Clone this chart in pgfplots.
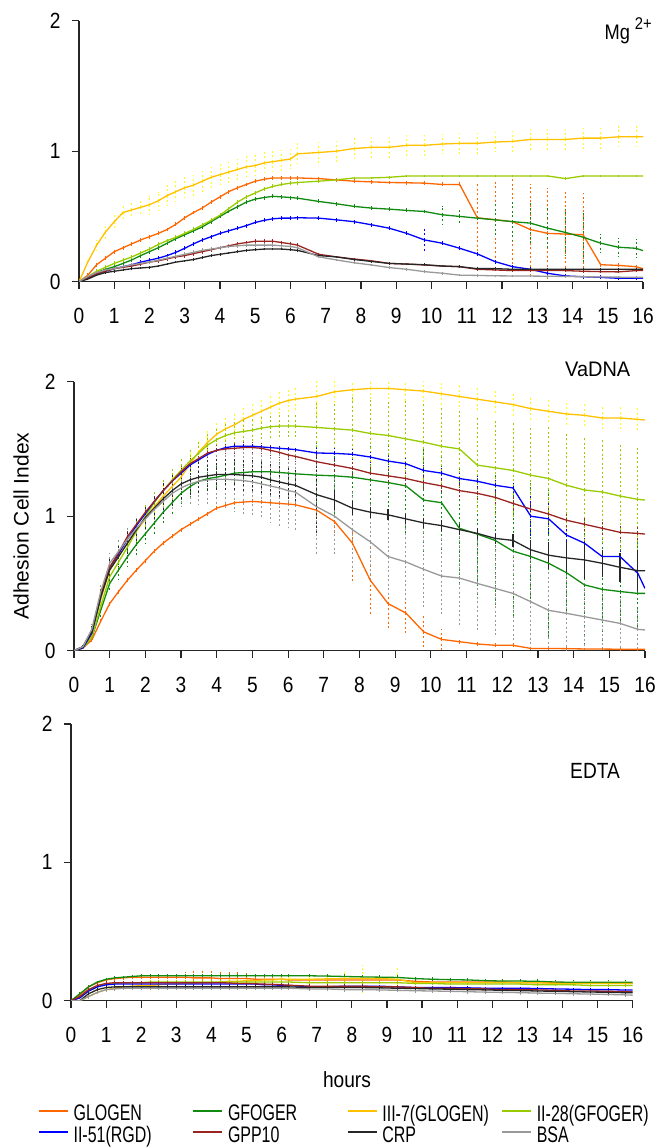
\documentclass[border=0pt]{standalone}
\usepackage{fontspec}
\setmainfont{Liberation Sans}[FakeStretch=0.87]
\newfontfamily\legfont{Liberation Sans}[FakeStretch=0.71]
\newfontfamily\labfont{Liberation Sans}
\newfontfamily\vafont{Liberation Sans}[FakeStretch=0.95]
\usepackage{pgfplots}
\usepackage{pgfplotstable}
\pgfplotsset{compat=1.18}

\definecolor{cGLO}{HTML}{FF6600}
\definecolor{cGFO}{HTML}{108A10}
\definecolor{cIII}{HTML}{FFC000}
\definecolor{eIII}{HTML}{FFFF00}
\definecolor{cII28}{HTML}{99CC00}
\definecolor{cRGD}{HTML}{0000FF}
\definecolor{cGPP}{HTML}{9A2420}
\definecolor{cCRP}{HTML}{262626}
\definecolor{cBSA}{HTML}{999999}

% Mg2+ panel: mean and error for each series
\pgfplotstableread{
t OG eOG GF eGF Y7 eY7 YG eYG BL eBL RD eRD BK eBK GR eGR
0 0 0 0 0 0 0 0 0 0 0 0 0 0 0 0 0
0.25 0.05 0.015 0.03 0.02 0.15 0.03 0.04 0.03 0.03 0.015 0.03 0.02 0.02 0.01 0.04 0.03
0.5 0.13 0.015 0.07 0.02 0.28 0.04 0.08 0.03 0.06 0.015 0.06 0.02 0.05 0.01 0.07 0.03
0.75 0.18 0.015 0.095 0.02 0.38 0.05 0.11 0.03 0.08 0.015 0.08 0.02 0.07 0.01 0.09 0.03
1 0.23 0.015 0.115 0.02 0.46 0.05 0.14 0.03 0.10 0.015 0.10 0.02 0.08 0.01 0.10 0.03
1.25 0.26 0.015 0.14 0.02 0.53 0.05 0.165 0.03 0.115 0.015 0.11 0.02 0.09 0.01 0.115 0.03
1.5 0.29 0.015 0.167 0.02 0.55 0.06 0.19 0.03 0.13 0.015 0.12 0.02 0.10 0.01 0.13 0.03
1.75 0.32 0.015 0.20 0.02 0.57 0.06 0.22 0.03 0.15 0.015 0.135 0.02 0.105 0.01 0.14 0.03
2 0.345 0.015 0.23 0.02 0.59 0.07 0.25 0.03 0.165 0.015 0.15 0.02 0.11 0.01 0.15 0.03
2.25 0.37 0.015 0.26 0.02 0.62 0.07 0.285 0.03 0.18 0.015 0.16 0.02 0.12 0.01 0.165 0.03
2.5 0.40 0.015 0.295 0.02 0.66 0.08 0.315 0.03 0.20 0.015 0.175 0.02 0.135 0.01 0.18 0.03
2.75 0.44 0.015 0.33 0.02 0.69 0.08 0.34 0.03 0.225 0.015 0.19 0.02 0.15 0.01 0.195 0.03
3 0.49 0.015 0.36 0.02 0.72 0.08 0.37 0.03 0.256 0.015 0.20 0.02 0.16 0.01 0.21 0.03
3.25 0.53 0.015 0.39 0.02 0.74 0.08 0.40 0.03 0.29 0.015 0.215 0.02 0.17 0.01 0.225 0.03
3.5 0.565 0.015 0.42 0.02 0.77 0.08 0.435 0.03 0.32 0.015 0.23 0.02 0.185 0.01 0.24 0.03
3.75 0.61 0.015 0.46 0.02 0.80 0.08 0.47 0.03 0.345 0.015 0.245 0.02 0.20 0.01 0.25 0.03
4 0.65 0.015 0.50 0.02 0.82 0.08 0.51 0.03 0.37 0.015 0.26 0.02 0.21 0.01 0.26 0.03
4.25 0.69 0.015 0.54 0.02 0.84 0.08 0.56 0.03 0.39 0.015 0.275 0.02 0.22 0.01 0.27 0.03
4.5 0.72 0.015 0.575 0.02 0.86 0.08 0.61 0.03 0.41 0.015 0.29 0.02 0.23 0.01 0.275 0.03
4.75 0.745 0.015 0.61 0.02 0.88 0.08 0.65 0.03 0.43 0.015 0.30 0.02 0.24 0.01 0.28 0.03
5 0.77 0.015 0.633 0.02 0.89 0.08 0.68 0.03 0.454 0.015 0.31 0.02 0.245 0.01 0.28 0.03
5.25 0.785 0.015 0.645 0.02 0.91 0.08 0.71 0.03 0.47 0.015 0.31 0.02 0.25 0.01 0.28 0.03
5.5 0.795 0.015 0.654 0.02 0.92 0.08 0.73 0.03 0.482 0.015 0.31 0.02 0.25 0.01 0.28 0.03
5.75 0.795 0.015 0.65 0.02 0.93 0.08 0.745 0.03 0.487 0.015 0.30 0.02 0.25 0.01 0.275 0.03
6 0.795 0.015 0.645 0.02 0.94 0.08 0.755 0.03 0.487 0.015 0.29 0.02 0.245 0.01 0.27 0.03
6.2 0.795 0.015 0.64 0.02 0.98 0.08 0.76 0.03 0.49 0.015 0.28 0.02 0.24 0.01 0.26 0.03
6.8 0.79 0.015 0.615 0.015 0.99 0.08 0.77 0.01 0.487 0.015 0.21 0.01 0.20 0.01 0.19 0.01
7.3 0.78 0.015 0.597 0.015 1.00 0.08 0.78 0.01 0.474 0.015 0.19 0.01 0.19 0.01 0.167 0.01
7.8 0.77 0.015 0.577 0.015 1.02 0.08 0.795 0.01 0.46 0.015 0.174 0.01 0.17 0.01 0.145 0.01
8.3 0.765 0.015 0.564 0.015 1.03 0.08 0.795 0.01 0.436 0.015 0.16 0.01 0.155 0.01 0.128 0.01
8.8 0.76 0.015 0.556 0.015 1.03 0.08 0.80 0.01 0.41 0.015 0.14 0.01 0.14 0.01 0.108 0.01
9.3 0.758 0.015 0.546 0.015 1.045 0.08 0.81 0.01 0.37 0.015 0.135 0.01 0.135 0.01 0.095 0.01
9.8 0.755 0.015 0.538 0.015 1.045 0.08 0.81 0.01 0.32 0.09 0.128 0.01 0.13 0.01 0.077 0.01
10.3 0.745 0.02 0.513 0.07 1.055 0.08 0.81 0.01 0.295 0.015 0.12 0.01 0.12 0.01 0.065 0.01
10.8 0.745 0.02 0.50 0.05 1.06 0.08 0.81 0.01 0.256 0.015 0.115 0.01 0.115 0.01 0.05 0.01
11.3 0.49 0.27 0.487 0.03 1.06 0.08 0.81 0.01 0.213 0.015 0.095 0.01 0.10 0.01 0.048 0.01
11.8 0.475 0.30 0.474 0.12 1.07 0.08 0.81 0.01 0.154 0.015 0.09 0.01 0.10 0.01 0.045 0.01
12.3 0.46 0.33 0.46 0.15 1.075 0.08 0.81 0.01 0.115 0.015 0.085 0.01 0.095 0.01 0.044 0.01
12.8 0.40 0.35 0.449 0.16 1.09 0.08 0.81 0.01 0.095 0.015 0.085 0.01 0.095 0.01 0.043 0.01
13.3 0.37 0.35 0.41 0.17 1.09 0.08 0.81 0.01 0.064 0.015 0.085 0.01 0.095 0.01 0.042 0.01
13.8 0.365 0.33 0.377 0.18 1.09 0.08 0.79 0.01 0.044 0.015 0.085 0.01 0.095 0.01 0.04 0.01
14.3 0.36 0.32 0.341 0.20 1.10 0.08 0.81 0.01 0.038 0.015 0.08 0.01 0.095 0.01 0.038 0.01
14.8 0.13 0.02 0.295 0.07 1.10 0.08 0.81 0.01 0.033 0.015 0.077 0.01 0.095 0.01 0.036 0.01
15.3 0.125 0.02 0.264 0.07 1.11 0.08 0.81 0.01 0.026 0.015 0.075 0.01 0.095 0.01 0.035 0.01
15.8 0.115 0.02 0.256 0.07 1.11 0.08 0.81 0.01 0.026 0.015 0.085 0.01 0.095 0.01 0.033 0.01
16 0.10 0 0.238 0 1.11 0 0.81 0 0.026 0 0.085 0 0.095 0 0.033 0
}\mgtab

% VaDNA panel
\pgfplotstableread{
t OG eOG GF eGF Y7 eY7 YG eYG BL eBL RD eRD BK eBK GR eGR
0 0 0 0 0 0 0 0 0 0 0 0 0 0 0 0 0
0.25 0.02 0.01 0.02 0.01 0.02 0.01 0.02 0.01 0.02 0.01 0.03 0.01 0.03 0.01 0.03 0.01
0.5 0.08 0.02 0.10 0.03 0.12 0.03 0.10 0.03 0.13 0.02 0.15 0.03 0.14 0.04 0.16 0.04
0.75 0.22 0.02 0.30 0.05 0.38 0.05 0.33 0.05 0.40 0.03 0.42 0.04 0.40 0.06 0.44 0.06
1 0.35 0.02 0.50 0.06 0.60 0.06 0.55 0.06 0.62 0.03 0.62 0.04 0.60 0.08 0.65 0.08
1.25 0.44 0.02 0.60 0.07 0.70 0.07 0.66 0.07 0.72 0.03 0.73 0.04 0.70 0.08 0.74 0.08
1.5 0.525 0.02 0.70 0.08 0.80 0.08 0.77 0.08 0.83 0.03 0.85 0.04 0.80 0.10 0.83 0.08
1.75 0.60 0.02 0.79 0.08 0.89 0.08 0.89 0.08 0.93 0.03 0.94 0.04 0.90 0.10 0.91 0.08
2 0.67 0.02 0.87 0.08 0.98 0.08 1.00 0.08 1.02 0.03 1.03 0.04 0.99 0.10 0.98 0.10
2.25 0.74 0.02 0.95 0.08 1.07 0.09 1.10 0.09 1.11 0.03 1.11 0.04 1.06 0.10 1.05 0.10
2.5 0.80 0.02 1.03 0.08 1.15 0.09 1.19 0.09 1.19 0.03 1.19 0.04 1.13 0.12 1.11 0.10
2.75 0.85 0.02 1.10 0.08 1.22 0.10 1.27 0.10 1.26 0.03 1.26 0.04 1.19 0.12 1.17 0.12
3 0.90 0.02 1.17 0.08 1.29 0.10 1.34 0.10 1.32 0.03 1.33 0.04 1.24 0.12 1.21 0.14
3.25 0.94 0.02 1.22 0.08 1.39 0.10 1.41 0.10 1.38 0.03 1.39 0.04 1.27 0.12 1.24 0.16
3.5 0.98 0.02 1.26 0.08 1.48 0.10 1.47 0.10 1.42 0.03 1.43 0.04 1.29 0.12 1.26 0.18
3.75 1.02 0.02 1.28 0.08 1.55 0.10 1.53 0.10 1.46 0.03 1.47 0.04 1.30 0.12 1.27 0.20
4 1.06 0.02 1.29 0.08 1.61 0.10 1.57 0.10 1.49 0.03 1.49 0.04 1.31 0.12 1.275 0.20
4.25 1.08 0.02 1.305 0.08 1.65 0.10 1.60 0.10 1.51 0.03 1.50 0.04 1.31 0.12 1.275 0.22
4.5 1.10 0.02 1.32 0.08 1.68 0.10 1.62 0.10 1.52 0.03 1.505 0.04 1.31 0.12 1.27 0.24
4.75 1.105 0.02 1.325 0.08 1.72 0.10 1.63 0.10 1.52 0.03 1.51 0.04 1.305 0.12 1.265 0.25
5 1.11 0.02 1.33 0.08 1.75 0.10 1.64 0.10 1.52 0.03 1.51 0.04 1.30 0.12 1.255 0.25
5.25 1.105 0.02 1.33 0.08 1.78 0.10 1.655 0.10 1.515 0.03 1.505 0.04 1.29 0.12 1.24 0.26
5.5 1.10 0.02 1.33 0.08 1.81 0.10 1.665 0.10 1.51 0.03 1.49 0.04 1.27 0.12 1.225 0.27
5.75 1.095 0.02 1.325 0.08 1.84 0.10 1.67 0.10 1.505 0.03 1.475 0.04 1.255 0.12 1.21 0.28
6 1.09 0.02 1.32 0.08 1.86 0.10 1.67 0.10 1.50 0.03 1.455 0.04 1.24 0.12 1.19 0.28
6.2 1.085 0.02 1.315 0.08 1.87 0.10 1.67 0.10 1.495 0.03 1.445 0.04 1.23 0.12 1.18 0.28
6.8 1.045 0.05 1.305 0.25 1.89 0.15 1.66 0.20 1.47 0.04 1.405 0.05 1.16 0.30 1.07 0.35
7.3 0.96 0.10 1.30 0.30 1.925 0.10 1.65 0.20 1.467 0.04 1.38 0.05 1.12 0.075 1.00 0.30
7.8 0.80 0.30 1.29 0.30 1.94 0.10 1.64 0.25 1.46 0.04 1.355 0.05 1.06 0.05 0.90 0.30
8.3 0.525 0.25 1.27 0.30 1.95 0.10 1.615 0.25 1.44 0.04 1.32 0.05 1.03 0.04 0.81 0.30
8.8 0.35 0.20 1.25 0.30 1.95 0.10 1.60 0.25 1.41 0.04 1.30 0.05 1.01 0.04 0.70 0.30
9.3 0.28 0.15 1.225 0.35 1.94 0.10 1.575 0.30 1.39 0.04 1.28 0.05 0.98 0.04 0.66 0.30
9.8 0.14 0.12 1.12 0.40 1.93 0.10 1.55 0.30 1.34 0.04 1.25 0.05 0.95 0.04 0.605 0.30
10.3 0.084 0.08 1.10 0.40 1.91 0.10 1.52 0.30 1.32 0.04 1.225 0.05 0.93 0.04 0.555 0.30
10.8 0.067 0.02 0.91 0.45 1.89 0.10 1.50 0.30 1.28 0.04 1.19 0.05 0.90 0.04 0.54 0.35
11.3 0.05 0.02 0.867 0.45 1.87 0.10 1.38 0.35 1.26 0.04 1.17 0.05 0.872 0.04 0.50 0.35
11.8 0.04 0.02 0.82 0.50 1.85 0.10 1.36 0.35 1.23 0.04 1.14 0.05 0.835 0.04 0.463 0.35
12.3 0.04 0.02 0.74 0.50 1.83 0.10 1.34 0.35 1.21 0.04 1.095 0.05 0.82 0.05 0.426 0.35
12.8 0.017 0.01 0.70 0.55 1.80 0.10 1.305 0.35 1.00 0.15 1.053 0.05 0.75 0.07 0.364 0.35
13.3 0.017 0.01 0.65 0.55 1.78 0.10 1.28 0.40 0.98 0.12 1.016 0.05 0.71 0.10 0.30 0.30
13.8 0.015 0.01 0.58 0.55 1.76 0.10 1.23 0.40 0.86 0.06 0.97 0.05 0.69 0.12 0.278 0.30
14.3 0.013 0.01 0.49 0.50 1.75 0.10 1.195 0.40 0.80 0.04 0.94 0.05 0.675 0.14 0.253 0.25
14.8 0.012 0.01 0.456 0.45 1.73 0.10 1.18 0.40 0.70 0.04 0.91 0.05 0.65 0.10 0.228 0.22
15.3 0.011 0.01 0.44 0.40 1.73 0.10 1.15 0.40 0.70 0.04 0.88 0.05 0.62 0.11 0.203 0.20
15.8 0.01 0.01 0.426 0.40 1.72 0.10 1.125 0.40 0.575 0.04 0.872 0.05 0.595 0.15 0.159 0.15
16 0.01 0 0.426 0 1.715 0 1.12 0 0.463 0 0.867 0 0.595 0 0.154 0
}\vatab

% EDTA panel
\pgfplotstableread{
t OG eOG GF eGF Y7 eY7 YG eYG BL eBL RD eRD BK eBK GR eGR
0 0 0 0 0 0 0 0 0 0 0 0 0 0 0 0 0
0.25 0.04 0.01 0.05 0.01 0 0 0.02 0.01 0.02 0.01 0.03 0.01 0 0 0 0
0.5 0.10 0.02 0.10 0.01 0.03 0.02 0.07 0.015 0.07 0.01 0.08 0.02 0.05 0.01 0.03 0.02
0.75 0.13 0.02 0.135 0.01 0.06 0.03 0.10 0.015 0.10 0.01 0.11 0.02 0.08 0.01 0.06 0.02
1 0.15 0.02 0.155 0.01 0.08 0.03 0.12 0.015 0.115 0.01 0.125 0.02 0.095 0.01 0.08 0.02
1.25 0.16 0.02 0.165 0.01 0.09 0.03 0.125 0.015 0.12 0.01 0.13 0.02 0.10 0.01 0.085 0.02
1.5 0.165 0.02 0.17 0.01 0.10 0.03 0.13 0.015 0.12 0.01 0.13 0.02 0.10 0.01 0.09 0.02
1.75 0.17 0.02 0.175 0.01 0.105 0.02 0.13 0.015 0.12 0.01 0.13 0.02 0.10 0.01 0.09 0.02
2 0.17 0.02 0.18 0.01 0.11 0.02 0.13 0.015 0.12 0.01 0.13 0.02 0.10 0.01 0.09 0.02
2.25 0.17 0.03 0.18 0.01 0.11 0.02 0.135 0.015 0.12 0.01 0.13 0.02 0.10 0.01 0.09 0.02
2.5 0.17 0.03 0.18 0.01 0.115 0.02 0.135 0.015 0.12 0.01 0.13 0.02 0.10 0.01 0.09 0.02
2.75 0.17 0.03 0.18 0.01 0.12 0.02 0.135 0.015 0.12 0.01 0.13 0.02 0.10 0.01 0.09 0.02
3 0.17 0.03 0.18 0.01 0.12 0.02 0.135 0.015 0.12 0.01 0.13 0.02 0.10 0.01 0.09 0.02
3.25 0.17 0.04 0.18 0.01 0.125 0.02 0.135 0.015 0.12 0.01 0.13 0.02 0.10 0.01 0.09 0.02
3.5 0.165 0.05 0.18 0.01 0.125 0.02 0.135 0.015 0.12 0.01 0.13 0.02 0.10 0.01 0.09 0.02
3.75 0.165 0.05 0.18 0.01 0.13 0.02 0.135 0.015 0.12 0.01 0.13 0.02 0.10 0.01 0.09 0.02
4 0.165 0.05 0.18 0.01 0.13 0.02 0.135 0.015 0.12 0.01 0.13 0.02 0.10 0.01 0.09 0.02
4.25 0.16 0.05 0.18 0.01 0.135 0.02 0.135 0.015 0.12 0.01 0.13 0.02 0.10 0.01 0.09 0.02
4.5 0.16 0.05 0.18 0.01 0.14 0.02 0.135 0.015 0.12 0.01 0.128 0.02 0.10 0.01 0.09 0.02
4.75 0.16 0.05 0.18 0.01 0.14 0.025 0.135 0.015 0.12 0.01 0.125 0.02 0.10 0.01 0.09 0.02
5 0.16 0.04 0.18 0.01 0.145 0.025 0.135 0.015 0.12 0.01 0.125 0.02 0.10 0.01 0.09 0.02
5.25 0.155 0.04 0.18 0.01 0.145 0.025 0.135 0.015 0.12 0.01 0.122 0.02 0.10 0.01 0.09 0.02
5.5 0.155 0.04 0.18 0.01 0.15 0.025 0.135 0.015 0.115 0.01 0.12 0.02 0.10 0.01 0.09 0.02
5.75 0.155 0.04 0.18 0.01 0.15 0.025 0.135 0.015 0.115 0.01 0.118 0.02 0.10 0.01 0.09 0.02
6 0.155 0.04 0.18 0.01 0.155 0.025 0.135 0.015 0.11 0.01 0.115 0.02 0.10 0.01 0.09 0.02
6.2 0.15 0.04 0.18 0.01 0.155 0.025 0.135 0.015 0.11 0.01 0.112 0.02 0.10 0.01 0.09 0.02
6.8 0.15 0.015 0.18 0.015 0.155 0.02 0.13 0.01 0.10 0.01 0.105 0.015 0.095 0.01 0.085 0.02
7.3 0.15 0.015 0.178 0.015 0.158 0.02 0.13 0.01 0.10 0.01 0.105 0.015 0.095 0.01 0.085 0.02
7.8 0.15 0.015 0.175 0.015 0.16 0.06 0.13 0.01 0.105 0.01 0.105 0.015 0.095 0.01 0.08 0.02
8.3 0.15 0.015 0.172 0.015 0.16 0.10 0.13 0.01 0.105 0.01 0.105 0.015 0.095 0.01 0.08 0.02
8.8 0.15 0.015 0.17 0.015 0.16 0.03 0.13 0.01 0.105 0.01 0.10 0.015 0.093 0.01 0.078 0.02
9.3 0.15 0.015 0.168 0.015 0.155 0.09 0.13 0.01 0.10 0.01 0.10 0.015 0.09 0.01 0.075 0.02
9.8 0.14 0.015 0.16 0.015 0.13 0.02 0.125 0.01 0.095 0.01 0.095 0.015 0.088 0.01 0.072 0.02
10.3 0.135 0.015 0.155 0.015 0.13 0.02 0.125 0.01 0.095 0.01 0.09 0.015 0.085 0.01 0.07 0.02
10.8 0.135 0.015 0.152 0.015 0.13 0.02 0.12 0.01 0.095 0.01 0.09 0.015 0.083 0.01 0.068 0.02
11.3 0.135 0.015 0.15 0.015 0.13 0.02 0.12 0.01 0.093 0.01 0.088 0.015 0.08 0.01 0.065 0.02
11.8 0.135 0.015 0.145 0.015 0.13 0.02 0.12 0.01 0.09 0.01 0.085 0.015 0.078 0.01 0.062 0.02
12.3 0.135 0.015 0.142 0.015 0.13 0.02 0.12 0.01 0.09 0.01 0.08 0.015 0.075 0.01 0.06 0.02
12.8 0.13 0.015 0.142 0.015 0.13 0.02 0.12 0.01 0.09 0.01 0.08 0.015 0.073 0.01 0.058 0.02
13.3 0.13 0.015 0.14 0.015 0.13 0.02 0.115 0.01 0.088 0.01 0.078 0.015 0.07 0.01 0.055 0.02
13.8 0.13 0.015 0.135 0.015 0.125 0.02 0.115 0.01 0.085 0.01 0.075 0.015 0.068 0.01 0.053 0.02
14.3 0.13 0.015 0.133 0.015 0.125 0.02 0.115 0.01 0.083 0.01 0.07 0.015 0.065 0.01 0.05 0.02
14.8 0.13 0.015 0.133 0.015 0.125 0.02 0.11 0.01 0.08 0.01 0.07 0.015 0.063 0.01 0.048 0.02
15.3 0.13 0.015 0.133 0.015 0.125 0.02 0.11 0.01 0.08 0.01 0.068 0.015 0.06 0.01 0.045 0.02
15.8 0.125 0.015 0.133 0.015 0.125 0.02 0.11 0.01 0.077 0.01 0.065 0.015 0.058 0.01 0.042 0.02
16 0.125 0 0.133 0 0.125 0 0.11 0 0.077 0 0.065 0 0.058 0 0.04 0
}\edtab

\pgfplotsset{
  panel/.style={
    scale only axis, anchor=south west,
    xmin=0, xmax=16, ymin=0, ymax=2,
    axis x line*=bottom, axis y line*=left,
    axis line style={-, line width=1.3pt, black!85},
    xtick={0,...,16}, ytick={0,1,2},
    tick align=outside, major tick length=7pt,
    every tick/.style={line width=1.2pt, black!85},
    tick label style={font=\fontsize{22}{24}\selectfont},
    /pgf/number format/assume math mode=true,
    xticklabel style={yshift=-16pt},
    yticklabel style={xshift=-8pt},
  },
  ebar/.style={draw=none, mark=none, forget plot,
    error bars/.cd, y dir=both, y explicit, error mark=none,
    error bar style={draw=#1, line width=0.9pt, dash pattern=on 2pt off 2.5pt}},
  ebarsolid/.style={draw=none, mark=none, forget plot,
    error bars/.cd, y dir=both, y explicit, error mark=none,
    error bar style={draw=#1, line width=1.2pt, solid}},
  ser/.style={#1, line width=1.3pt, mark=none},
}

\newcommand\errbars[1]{%
  \addplot[ebar=cGLO] table[x=t, y=OG, y error=eOG] {#1};
  \addplot[ebar=cGFO] table[x=t, y=GF, y error=eGF] {#1};
  \addplot[ebar=eIII] table[x=t, y=Y7, y error=eY7] {#1};
  \addplot[ebar=cII28] table[x=t, y=YG, y error=eYG] {#1};
  \addplot[ebar=cRGD] table[x=t, y=BL, y error=eBL] {#1};
  \addplot[ebar=cGPP] table[x=t, y=RD, y error=eRD] {#1};
  \addplot[ebar=cBSA] table[x=t, y=GR, y error=eGR] {#1};
}
\newcommand\meanlines[1]{%
  \addplot[ser=cGLO] table[x=t, y=OG] {#1};
  \addplot[ser=cGFO] table[x=t, y=GF] {#1};
  \addplot[ser=cIII] table[x=t, y=Y7] {#1};
  \addplot[ser=cII28] table[x=t, y=YG] {#1};
  \addplot[ser=cRGD] table[x=t, y=BL] {#1};
  \addplot[ser=cGPP] table[x=t, y=RD] {#1};
  \addplot[ser=cCRP] table[x=t, y=BK] {#1};
  \addplot[ser=cBSA] table[x=t, y=GR] {#1};
}

\begin{document}
\begin{tikzpicture}
\useasboundingbox (0pt,0pt) rectangle (658pt,1148pt);

% Mg2+
\begin{axis}[panel, at={(79pt,866.3pt)}, width=564pt, height=261pt]
\errbars{\mgtab}
\addplot[ebar=cCRP] table[x=t, y=BK, y error=eBK] {\mgtab};
\meanlines{\mgtab}
\end{axis}

% VaDNA
\begin{axis}[panel, at={(74pt,497.3pt)}, width=571pt, height=269pt]
\errbars{\vatab}
\addplot[restrict x to domain=0:7, ebar=cCRP] table[x=t, y=BK, y error=eBK] {\vatab};
\addplot[restrict x to domain=7:17, ebarsolid=cCRP] table[x=t, y=BK, y error=eBK] {\vatab};
\meanlines{\vatab}
\end{axis}

% EDTA
\begin{axis}[panel, at={(71pt,147.3pt)}, width=561.7pt, height=276.7pt,
  legend columns=4,
  legend cell align=left,
  legend style={at={(0,0)}, anchor=north west, xshift=-33pt, yshift=-104pt,
    draw=none, fill=none, inner sep=0pt, nodes={inner sep=0pt},
    font=\legfont\fontsize{22.5}{24}\selectfont, row sep=3.5pt,
    /tikz/every odd column/.append style={column sep=5pt},
    /tikz/every even column/.append style={column sep=9pt}},
  legend image code/.code={\path (0pt,0pt); \draw[#1, line width=1.4pt] (0pt,3pt) -- (29pt,3pt);},
]
\errbars{\edtab}
\addplot[ebar=cCRP] table[x=t, y=BK, y error=eBK] {\edtab};
\meanlines{\edtab}
\legend{{\makebox[110pt][l]{GLOGEN}}, {\makebox[110pt][l]{GFOGER}},
  {\makebox[110pt][l]{III-7(GLOGEN)}}, {\makebox[110pt][l]{II-28(GFOGER)}},
  {\makebox[110pt][l]{II-51(RGD)}}, {\makebox[110pt][l]{GPP10}},
  {\makebox[110pt][l]{CRP}}, {\makebox[110pt][l]{BSA}}}
\end{axis}

\node[anchor=base west, font=\fontsize{21}{22}\selectfont] at (601pt,1108pt)
  {Mg\hspace{5pt}\raisebox{10pt}{\fontsize{17}{17}\selectfont 2+}};
\node[anchor=base west, font=\vafont\fontsize{21}{22}\selectfont] at (561.7pt,771.3pt) {VaDNA};
\node[anchor=base west, font=\fontsize{22}{24}\selectfont] at (566.7pt,369.7pt) {EDTA};
\node[rotate=90, font=\labfont\fontsize{21}{22}\selectfont] at (21pt,622pt) {Adhesion Cell Index};
\node[anchor=base, font=\fontsize{22}{24}\selectfont] at (347pt,60pt) {hours};
\end{tikzpicture}
\end{document}
